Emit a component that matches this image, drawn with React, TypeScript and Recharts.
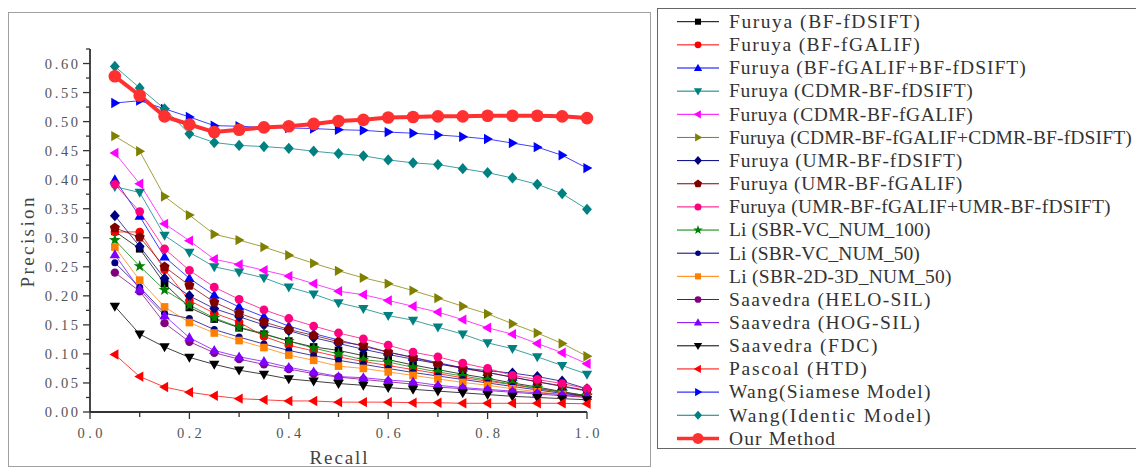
import { LineChart, Line, XAxis, YAxis, Legend } from 'recharts';

// recall sampling points
const RECALL = [0.05, 0.1, 0.15, 0.2, 0.25, 0.3, 0.35, 0.4, 0.45, 0.5, 0.55, 0.6, 0.65, 0.7, 0.75, 0.8, 0.85, 0.9, 0.95, 1.0];

// precision values per method
const FURUYA_BF_FDSIFT = [0.311, 0.281, 0.221, 0.18, 0.16, 0.145, 0.134, 0.122, 0.112, 0.106, 0.097, 0.09, 0.081, 0.073, 0.065, 0.058, 0.05, 0.043, 0.035, 0.028];
const FURUYA_BF_FGALIF = [0.31, 0.31, 0.245, 0.192, 0.17, 0.155, 0.13, 0.115, 0.105, 0.095, 0.087, 0.08, 0.073, 0.066, 0.059, 0.053, 0.047, 0.04, 0.034, 0.027];
const FURUYA_BF_BOTH = [0.4, 0.337, 0.267, 0.23, 0.201, 0.181, 0.164, 0.148, 0.135, 0.124, 0.113, 0.103, 0.094, 0.085, 0.076, 0.068, 0.06, 0.052, 0.044, 0.036];
const FURUYA_CDMR_FDSIFT = [0.388, 0.378, 0.304, 0.275, 0.25, 0.241, 0.231, 0.215, 0.203, 0.188, 0.178, 0.166, 0.158, 0.146, 0.134, 0.119, 0.109, 0.095, 0.08, 0.065];
const FURUYA_CDMR_FGALIF = [0.446, 0.393, 0.324, 0.295, 0.263, 0.254, 0.244, 0.234, 0.221, 0.208, 0.202, 0.192, 0.182, 0.172, 0.159, 0.145, 0.134, 0.118, 0.102, 0.083];
const FURUYA_CDMR_BOTH = [0.475, 0.449, 0.371, 0.339, 0.306, 0.296, 0.284, 0.27, 0.256, 0.243, 0.231, 0.221, 0.209, 0.196, 0.182, 0.169, 0.152, 0.136, 0.118, 0.096];
const FURUYA_UMR_FDSIFT = [0.338, 0.285, 0.23, 0.2, 0.178, 0.164, 0.15, 0.14, 0.128, 0.118, 0.108, 0.099, 0.091, 0.083, 0.076, 0.071, 0.067, 0.061, 0.053, 0.04];
const FURUYA_UMR_FGALIF = [0.317, 0.301, 0.25, 0.218, 0.189, 0.17, 0.155, 0.142, 0.132, 0.121, 0.115, 0.103, 0.094, 0.083, 0.075, 0.068, 0.06, 0.052, 0.045, 0.037];
const FURUYA_UMR_BOTH = [0.392, 0.345, 0.281, 0.244, 0.215, 0.194, 0.176, 0.161, 0.148, 0.136, 0.126, 0.115, 0.103, 0.095, 0.084, 0.075, 0.063, 0.056, 0.049, 0.04];
const LI_VC_100 = [0.296, 0.251, 0.21, 0.184, 0.162, 0.146, 0.135, 0.122, 0.11, 0.1, 0.09, 0.086, 0.077, 0.069, 0.062, 0.055, 0.048, 0.041, 0.034, 0.028];
const LI_VC_50 = [0.257, 0.215, 0.17, 0.161, 0.142, 0.129, 0.117, 0.106, 0.097, 0.089, 0.082, 0.075, 0.068, 0.062, 0.056, 0.05, 0.044, 0.038, 0.032, 0.027];
const LI_2D3D_50 = [0.284, 0.227, 0.181, 0.154, 0.136, 0.123, 0.111, 0.098, 0.089, 0.079, 0.075, 0.069, 0.063, 0.057, 0.051, 0.046, 0.04, 0.035, 0.03, 0.025];
const SAAVEDRA_HELO = [0.24, 0.208, 0.153, 0.121, 0.102, 0.091, 0.082, 0.074, 0.066, 0.06, 0.056, 0.052, 0.048, 0.043, 0.04, 0.037, 0.034, 0.031, 0.028, 0.025];
const SAAVEDRA_HOG = [0.271, 0.211, 0.166, 0.128, 0.106, 0.095, 0.087, 0.077, 0.069, 0.061, 0.059, 0.055, 0.052, 0.046, 0.042, 0.039, 0.036, 0.033, 0.03, 0.027];
const SAAVEDRA_FDC = [0.182, 0.134, 0.112, 0.094, 0.082, 0.072, 0.065, 0.057, 0.053, 0.049, 0.046, 0.042, 0.039, 0.036, 0.033, 0.03, 0.027, 0.025, 0.023, 0.021];
const PASCOAL_HTD = [0.099, 0.061, 0.043, 0.034, 0.028, 0.023, 0.021, 0.019, 0.019, 0.017, 0.017, 0.017, 0.016, 0.016, 0.015, 0.015, 0.015, 0.015, 0.015, 0.014];
const WANG_SIAMESE = [0.532, 0.536, 0.522, 0.508, 0.493, 0.492, 0.49, 0.489, 0.488, 0.486, 0.485, 0.482, 0.48, 0.477, 0.474, 0.47, 0.463, 0.456, 0.442, 0.42];
const WANG_IDENTIC = [0.595, 0.558, 0.522, 0.479, 0.464, 0.459, 0.457, 0.454, 0.449, 0.445, 0.441, 0.434, 0.429, 0.426, 0.419, 0.412, 0.403, 0.392, 0.376, 0.349];
const OUR_METHOD = [0.578, 0.545, 0.509, 0.495, 0.482, 0.486, 0.49, 0.492, 0.496, 0.501, 0.503, 0.507, 0.508, 0.509, 0.509, 0.51, 0.51, 0.51, 0.509, 0.506];

const X_TICKS = [0, 0.1, 0.2, 0.3, 0.4, 0.5, 0.6, 0.7, 0.8, 0.9, 1.0];
const X_LABELS = ['0.0', '', '0.2', '', '0.4', '', '0.6', '', '0.8', '', '1.0'];
const Y_TICKS = [0, 0.025, 0.05, 0.075, 0.1, 0.125, 0.15, 0.175, 0.2, 0.225, 0.25, 0.275, 0.3, 0.325, 0.35, 0.375, 0.4, 0.425, 0.45, 0.475, 0.5, 0.525, 0.55, 0.575, 0.6, 0.625];
const Y_LABELS = ['0.00', '', '0.05', '', '0.10', '', '0.15', '', '0.20', '', '0.25', '', '0.30', '', '0.35', '', '0.40', '', '0.45', '', '0.50', '', '0.55', '', '0.60', ''];

type Shape = 'square' | 'circle' | 'up' | 'down' | 'left' | 'right' | 'diamond' | 'pentagon' | 'star';

interface SeriesDef {
  key: string;
  name: string;
  values: number[];
  color: string;
  shape: Shape;
  r: number;
  width: number;
}

const SERIES: SeriesDef[] = [
  { key: 's1', name: 'Furuya (BF-fDSIFT)', values: FURUYA_BF_FDSIFT, color: '#000000', shape: 'square', r: 3.8, width: 1 },
  { key: 's2', name: 'Furuya (BF-fGALIF)', values: FURUYA_BF_FGALIF, color: '#ff0000', shape: 'circle', r: 4.3, width: 1 },
  { key: 's3', name: 'Furuya (BF-fGALIF+BF-fDSIFT)', values: FURUYA_BF_BOTH, color: '#0000ff', shape: 'up', r: 4.5, width: 1 },
  { key: 's4', name: 'Furuya (CDMR-BF-fDSIFT)', values: FURUYA_CDMR_FDSIFT, color: '#008080', shape: 'down', r: 4.5, width: 1 },
  { key: 's5', name: 'Furuya (CDMR-BF-fGALIF)', values: FURUYA_CDMR_FGALIF, color: '#ff00ff', shape: 'left', r: 4.5, width: 1 },
  { key: 's6', name: 'Furuya (CDMR-BF-fGALIF+CDMR-BF-fDSIFT)', values: FURUYA_CDMR_BOTH, color: '#808000', shape: 'right', r: 4.5, width: 1 },
  { key: 's7', name: 'Furuya (UMR-BF-fDSIFT)', values: FURUYA_UMR_FDSIFT, color: '#000080', shape: 'diamond', r: 4.5, width: 1 },
  { key: 's8', name: 'Furuya (UMR-BF-fGALIF)', values: FURUYA_UMR_FGALIF, color: '#800000', shape: 'pentagon', r: 4.8, width: 1 },
  { key: 's9', name: 'Furuya (UMR-BF-fGALIF+UMR-BF-fDSIFT)', values: FURUYA_UMR_BOTH, color: '#ff0080', shape: 'circle', r: 4.4, width: 1 },
  { key: 's10', name: 'Li (SBR-VC_NUM_100)', values: LI_VC_100, color: '#008000', shape: 'star', r: 5, width: 1 },
  { key: 's11', name: 'Li (SBR-VC_NUM_50)', values: LI_VC_50, color: '#000080', shape: 'circle', r: 3.5, width: 1 },
  { key: 's12', name: 'Li (SBR-2D-3D_NUM_50)', values: LI_2D3D_50, color: '#ff8000', shape: 'square', r: 3.8, width: 1 },
  { key: 's13', name: 'Saavedra (HELO-SIL)', values: SAAVEDRA_HELO, color: '#800080', shape: 'circle', r: 4.2, width: 1 },
  { key: 's14', name: 'Saavedra (HOG-SIL)', values: SAAVEDRA_HOG, color: '#8000ff', shape: 'up', r: 4.5, width: 1 },
  { key: 's15', name: 'Saavedra (FDC)', values: SAAVEDRA_FDC, color: '#000000', shape: 'down', r: 4.5, width: 1 },
  { key: 's16', name: 'Pascoal (HTD)', values: PASCOAL_HTD, color: '#ff0000', shape: 'left', r: 4.5, width: 1 },
  { key: 's17', name: 'Wang(Siamese Model)', values: WANG_SIAMESE, color: '#0000ff', shape: 'right', r: 4.5, width: 1 },
  { key: 's18', name: 'Wang(Identic Model)', values: WANG_IDENTIC, color: '#008080', shape: 'diamond', r: 4.5, width: 1 },
  { key: 's19', name: 'Our Method', values: OUR_METHOD, color: '#ff3030', shape: 'circle', r: 6.3, width: 4 },
];

const data = RECALL.map((recall, i) => {
  const row: Record<string, number> = { recall };
  SERIES.forEach((s) => {
    row[s.key] = s.values[i];
  });
  return row;
});

const SERIF = '"Liberation Serif", "DejaVu Serif", serif';

function Marker({ cx, cy, shape, color, r }: { cx: number; cy: number; shape: Shape; color: string; r: number }) {
  if (cx == null || cy == null) return null;
  const pts = (list: number[][]) => list.map(([px, py]) => `${cx + px},${cy + py}`).join(' ');
  switch (shape) {
    case 'square':
      return <rect x={cx - r} y={cy - r} width={r * 2} height={r * 2} fill={color} />;
    case 'circle':
      return <circle cx={cx} cy={cy} r={r} fill={color} />;
    case 'up':
      return <polygon points={pts([[0, -r * 1.2], [r * 1.15, r * 0.8], [-r * 1.15, r * 0.8]])} fill={color} />;
    case 'down':
      return <polygon points={pts([[0, r * 1.2], [r * 1.15, -r * 0.8], [-r * 1.15, -r * 0.8]])} fill={color} />;
    case 'left':
      return <polygon points={pts([[-r * 1.2, 0], [r * 0.8, -r * 1.15], [r * 0.8, r * 1.15]])} fill={color} />;
    case 'right':
      return <polygon points={pts([[r * 1.2, 0], [-r * 0.8, -r * 1.15], [-r * 0.8, r * 1.15]])} fill={color} />;
    case 'diamond':
      return <polygon points={pts([[0, -r * 1.25], [r * 1.1, 0], [0, r * 1.25], [-r * 1.1, 0]])} fill={color} />;
    case 'pentagon': {
      const list = [0, 1, 2, 3, 4].map((k) => {
        const a = ((-90 + k * 72) * Math.PI) / 180;
        return [Math.cos(a) * r * 1.1, Math.sin(a) * r * 1.1];
      });
      return <polygon points={pts(list)} fill={color} />;
    }
    case 'star': {
      const list = [0, 1, 2, 3, 4, 5, 6, 7, 8, 9].map((k) => {
        const a = ((-90 + k * 36) * Math.PI) / 180;
        const rr = k % 2 === 0 ? r * 1.25 : r * 0.5;
        return [Math.cos(a) * rr, Math.sin(a) * rr];
      });
      return <polygon points={pts(list)} fill={color} />;
    }
  }
  return null;
}

// y axis tick: major ticks with labels, minor ticks without
function YTick(props: any) {
  const { x, y, index } = props;
  const label = Y_LABELS[index] ?? '';
  const len = label ? 7 : 4;
  return (
    <g>
      <line x1={x} y1={y} x2={x - len} y2={y} stroke="#333" strokeWidth={1.3} />
      {label && (
        <text x={x - 12} y={y} dy="0.35em" textAnchor="end" fontFamily={SERIF} fontSize={14.5} fill="#555"
          textLength={label.length * 8.3} lengthAdjust="spacing">
          {label}
        </text>
      )}
    </g>
  );
}

function XTick(props: any) {
  const { x, y, index } = props;
  const label = X_LABELS[index] ?? '';
  const len = label ? 7 : 5;
  return (
    <g>
      <line x1={x} y1={y} x2={x} y2={y + len} stroke="#333" strokeWidth={1.3} />
      {label && (
        <text x={x} y={y + 21} dy="0.35em" textAnchor="middle" fontFamily={SERIF} fontSize={14.5} fill="#555"
          textLength={label.length * 8.3} lengthAdjust="spacing">
          {label}
        </text>
      )}
    </g>
  );
}

const ROW_TOP = 12.7;
const ROW_STEP = 23.15;

function LegendBox() {
  return (
    <div style={{ width: 490, height: 441, border: '1px solid #666', boxSizing: 'border-box', background: '#fff' }}>
      <svg width={488} height={439} style={{ overflow: 'visible', display: 'block' }}>
        {SERIES.map((s, i) => {
          const cy = ROW_TOP + i * ROW_STEP;
          const big = s.width > 1;
          return (
            <g key={s.key}>
              <line x1={19} y1={cy} x2={61} y2={cy} stroke={s.color} strokeWidth={big ? 3.5 : 1} />
              <Marker cx={40} cy={cy} shape={s.shape} color={s.color} r={big ? 5.5 : s.r * 0.8} />
              <text x={71} y={cy + 6.3} fontFamily={SERIF} fontSize={19.5} fill="#333"
                textLength={s.name.length * 10.6} lengthAdjust="spacing">
                {s.name}
              </text>
            </g>
          );
        })}
      </svg>
    </div>
  );
}

export default function App() {
  return (
    <div style={{ position: 'absolute', left: 0, top: 0, width: 1136, height: 468, overflow: 'hidden', background: '#fff' }}>
      <div style={{ position: 'absolute', left: 8, top: 12, width: 643, height: 455, border: '1.5px solid #a0a0a0', boxSizing: 'border-box' }} />
      <div style={{ position: 'absolute', left: 0, top: 0 }}>
        <LineChart width={1136} height={468} data={data} margin={{ top: 49, right: 549, bottom: 0, left: 0 }}>
          <XAxis
            dataKey="recall"
            type="number"
            domain={[0, 1]}
            ticks={X_TICKS}
            interval={0}
            height={56}
            tickSize={0}
            tickMargin={0}
            tick={<XTick />}
            axisLine={{ stroke: '#333', strokeWidth: 1.8 }}
            tickLine={false}
            label={{
              content: ({ viewBox }: any) => (
                <text x={viewBox.x + viewBox.width / 2} y={viewBox.y + 52} textAnchor="middle" fontFamily={SERIF}
                  fontSize={19} fill="#444" textLength={58} lengthAdjust="spacing">
                  Recall
                </text>
              ),
            }}
          />
          <YAxis
            type="number"
            domain={[0, 0.625]}
            ticks={Y_TICKS}
            interval={0}
            width={90}
            tickSize={0}
            tickMargin={0}
            tick={<YTick />}
            axisLine={{ stroke: '#333', strokeWidth: 1.8 }}
            tickLine={false}
            label={{
              content: ({ viewBox }: any) => {
                const cx = viewBox.x + 27;
                const cy = viewBox.y + viewBox.height / 2 + 12;
                return (
                  <text x={cx} y={cy} transform={`rotate(-90 ${cx} ${cy})`} dy="0.35em" textAnchor="middle"
                    fontFamily={SERIF} fontSize={19} fill="#444" textLength={90} lengthAdjust="spacing">
                    Precision
                  </text>
                );
              },
            }}
          />
          <Legend
            layout="vertical"
            align="center"
            verticalAlign="middle"
            wrapperStyle={{ left: 657, top: 8, width: 490, height: 441 }}
            content={() => <LegendBox />}
          />
          {SERIES.map((s) => (
            <Line
              key={s.key}
              dataKey={s.key}
              name={s.name}
              type="linear"
              stroke={s.color}
              strokeWidth={s.width}
              strokeOpacity={s.width > 1 ? 1 : 0.75}
              isAnimationActive={false}
              activeDot={false}
              dot={(p: any) => (
                <Marker key={`${s.key}-${p.index}`} cx={p.cx} cy={p.cy} shape={s.shape} color={s.color} r={s.r} />
              )}
            />
          ))}
        </LineChart>
      </div>
    </div>
  );
}
